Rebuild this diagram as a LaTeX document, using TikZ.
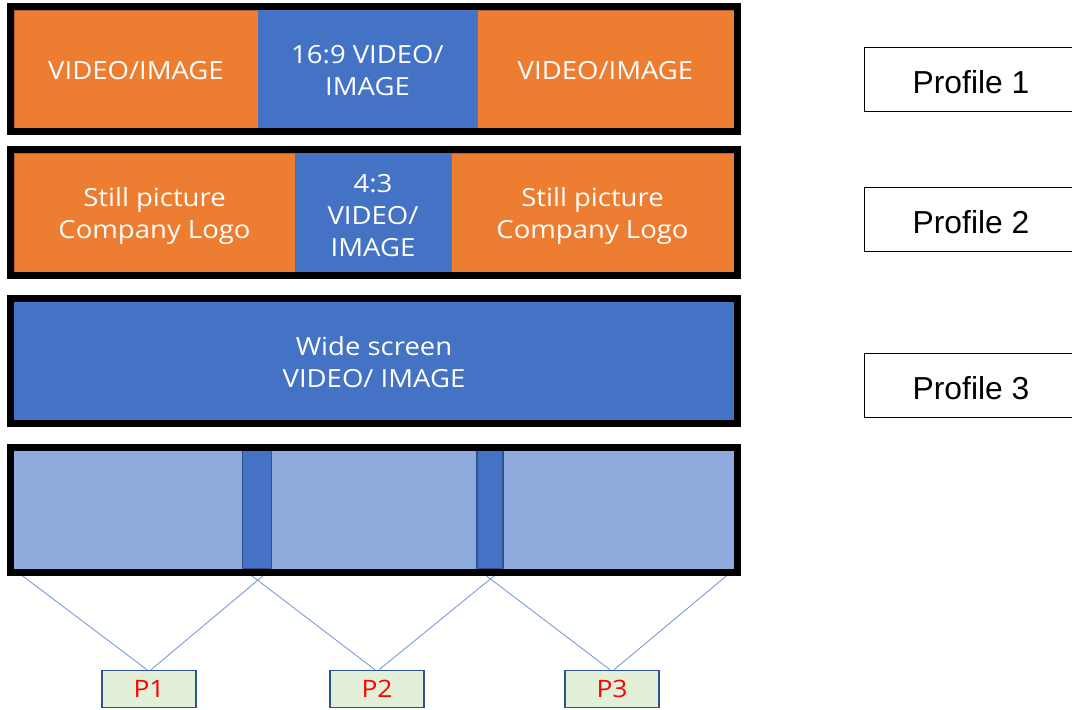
\documentclass[tikz,border=0pt]{standalone}
\usepackage{fontspec}
\setmainfont{Open Sans}[FakeStretch=1.1]
\newfontfamily\arialfont{Liberation Sans}
\definecolor{oOrange}{HTML}{ED7D31}
\definecolor{oOrangeDk}{HTML}{B8612A}
\definecolor{oBlue}{HTML}{4472C4}
\definecolor{oBlueLt}{HTML}{8FAADC}
\definecolor{oBlueDk}{HTML}{2F528F}
\definecolor{oGreen}{HTML}{E2F0D9}
\definecolor{oLine}{HTML}{7B9BD6}
\begin{document}
\begin{tikzpicture}[x=1pt,y=-1pt,
  seg/.style={anchor=north west,inner sep=0,outer sep=0},
  segtext/.style={inner sep=0,text=white,align=center,font=\fontsize{25}{32}\selectfont},
  orseg/.style={seg,fill=oOrange,draw=oOrangeDk,line width=1},
  blseg/.style={seg,fill=oBlue},
  ltseg/.style={seg,fill=oBlueLt},
  strip/.style={seg,fill=oBlue,draw=oBlueDk,line width=1.5},
  frame/.style={draw=black,line width=7},
  pbox/.style={draw=oBlueDk,fill=oGreen,line width=1.5,minimum width=94,minimum height=37,
    inner sep=0,text=red,font=\fontsize{24}{26}\selectfont},
  profile/.style={draw=black,line width=1,fill=white,anchor=north west,minimum height=64,
    minimum width=214,inner sep=0,text height=28.5,text depth=0,
    font=\arialfont\fontsize{31.8}{34}\selectfont},
  link/.style={draw=oLine,line width=0.9}]
\useasboundingbox (0,0) rectangle (1072,710);
% Row 1
\node[orseg,minimum width=244,minimum height=119] (a1) at (14,10) {};
\node[orseg,minimum width=257,minimum height=119] (a3) at (477,10) {};
\node[blseg,minimum width=219,minimum height=119] (a2) at (258,10) {};
\node[segtext,yshift=-1] (ta1) at (a1.center) {VIDEO/IMAGE};
\node[segtext,yshift=-1] (ta3) at (a3.center) {VIDEO/IMAGE};
\node[segtext,yshift=-1.5] (ta2) at (a2.center) {16:9 VIDEO/\\IMAGE};
\draw[frame] (10,6.5) rectangle (737,131.5);
% Row 2
\node[orseg,minimum width=281,minimum height=119] (b1) at (14,153) {};
\node[orseg,minimum width=283,minimum height=119] (b3) at (451,153) {};
\node[blseg,minimum width=156,minimum height=119] (b2) at (295,153) {};
\node[segtext,yshift=-4] (tb1) at (b1.center) {Still picture\\Company Logo};
\node[segtext,yshift=-4] (tb3) at (b3.center) {Still picture\\Company Logo};
\node[segtext,yshift=-3.5] (tb2) at (b2.center) {4:3\\VIDEO/\\IMAGE};
\draw[frame] (10,149.7) rectangle (737,275);
% Row 3
\node[blseg,minimum width=720,minimum height=119] (c1) at (14,301.5) {};
\node[segtext,yshift=-1.5] (tc1) at (c1.center) {Wide screen\\VIDEO/ IMAGE};
\draw[frame] (10,298) rectangle (737,423.3);
% Row 4
\node[pbox] (p1) at (149,689) {P1};
\node[pbox] (p2) at (377,689) {P2};
\node[pbox] (p3) at (612,689) {P3};
\node[ltseg,minimum width=720,minimum height=119] (d0) at (14,450.5) {};
\node[strip,minimum width=29,minimum height=118] (s1) at (242.5,450.7) {};
\node[strip,minimum width=26,minimum height=118] (s2) at (477,450.7) {};
\draw[link] (d0.south west) -- ([xshift=-2]p1.north);
\draw[link] (s1.south east) -- ([xshift=2]p1.north);
\draw[link] (s1.south west) -- ([xshift=-2]p2.north);
\draw[link] (s2.south east) -- ([xshift=2]p2.north);
\draw[link] (s2.south west) -- ([xshift=-2]p3.north);
\draw[link] (d0.south east) -- ([xshift=2]p3.north);
\draw[frame] (10,447.3) rectangle (737,572.7);
% Profiles
\node[profile] (pr1) at (863.5,47) {Profile 1};
\node[profile] (pr2) at (863.5,187) {Profile 2};
\node[profile] (pr3) at (863.5,353) {Profile 3};
\end{tikzpicture}
\end{document}
